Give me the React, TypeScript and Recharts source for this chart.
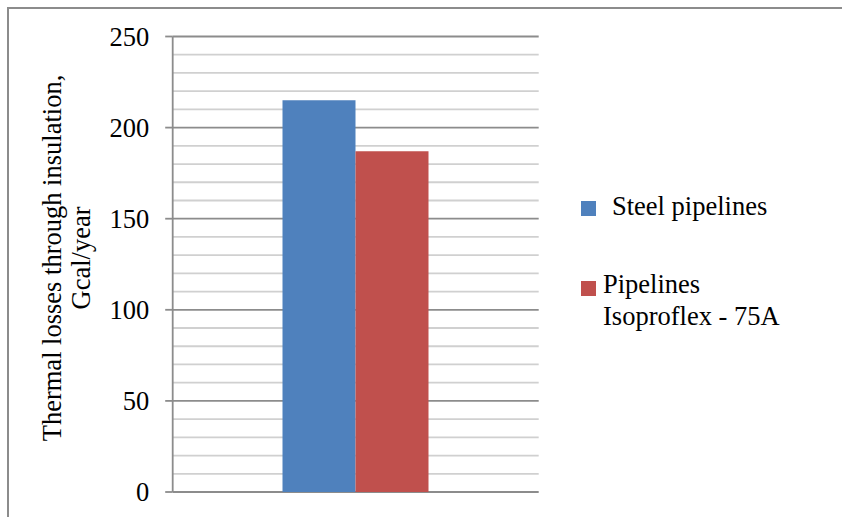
import React from "react";
import { BarChart, Bar, XAxis, YAxis, CartesianGrid } from "recharts";

const categories = [""];
const steelValues = [215];
const isoproflexValues = [187];
const seriesNames = ["Steel pipelines", "Pipelines Isoproflex - 75A"];
const legendLines = [["Steel pipelines"], ["Pipelines", "Isoproflex - 75A"]];
const seriesColors = ["#4F81BD", "#C0504D"];
const gridTicks = [
  0, 10, 20, 30, 40, 50, 60, 70, 80, 90, 100, 110, 120, 130, 140, 150, 160, 170,
  180, 190, 200, 210, 220, 230, 240, 250,
];
const axisTitleLines = ["Thermal losses through insulation,", "Gcal/year"];

const data = categories.map((c, i) => ({
  name: c,
  steel: steelValues[i],
  iso: isoproflexValues[i],
}));

const FONT = "'Liberation Serif', 'Times New Roman', serif";
const FS = 26.5;
const MAJOR = "#8c8c8c";
const MINOR = "#d0d0d0";
const textStyle = { fontFamily: FONT, fontSize: FS, fill: "#000" };

const AxisTitle = () => (
  <g>
    <text transform="rotate(-90)" x={-258} y={61} textAnchor="middle" style={textStyle}>
      {axisTitleLines[0]}
    </text>
    <text transform="rotate(-90)" x={-258} y={90} textAnchor="middle" style={textStyle}>
      {axisTitleLines[1]}
    </text>
  </g>
);

const LegendOverlay = () => (
  <svg
    width={842}
    height={517}
    style={{ position: "absolute", left: 0, top: 0, pointerEvents: "none" }}
  >
    <rect x={581} y={201} width={15} height={15} fill={seriesColors[0]} />
    <text x={612} y={215} style={textStyle}>
      {legendLines[0][0]}
    </text>
    <rect x={581} y={281} width={15} height={15} fill={seriesColors[1]} />
    <text x={603} y={293} style={textStyle}>
      {legendLines[1][0]}
    </text>
    <text x={603} y={325} style={textStyle}>
      {legendLines[1][1]}
    </text>
  </svg>
);

const GridLine = (props: any) => {
  const { x1, x2, y1, y2, index } = props;
  const major = index % 5 === 0;
  return <line x1={x1} x2={x2} y1={y1} y2={y2} stroke={major ? MAJOR : MINOR} strokeWidth={1.8} />;
};

const Tick = (props: any) => {
  const { x, y, payload } = props;
  if (payload.value % 50 !== 0) return <g />;
  return (
    <g>
      <line x1={x + 16} x2={x + 23.5} y1={y} y2={y} stroke={MAJOR} strokeWidth={1.8} />
      <text x={x} y={y} dy="0.355em" textAnchor="end" style={textStyle}>
        {payload.value}
      </text>
    </g>
  );
};

export default function App() {
  return (
    <div
      style={{
        position: "fixed",
        left: 0,
        top: 0,
        width: 842,
        height: 517,
        overflow: "hidden",
        background: "#fff",
      }}
    >
      <div
        style={{
          position: "absolute",
          left: 6.5,
          top: 6.5,
          width: 900,
          height: 600,
          borderTop: "2px solid #8c8c8c",
          borderLeft: "2px solid #8c8c8c",
        }}
      />
      <div style={{ position: "absolute", left: 0, top: 0 }}>
        <BarChart
          width={842}
          height={517}
          data={data}
          margin={{ top: 36.5, right: 303.3, bottom: 25, left: 0 }}
          barCategoryGap="30%"
          barGap={0}
        >
          <CartesianGrid vertical={false} horizontal={(p: any) => <GridLine {...p} />} />
          <XAxis dataKey="name" hide />
          <YAxis
            width={172.7}
            domain={[0, 250]}
            ticks={gridTicks}
            interval={0}
            axisLine={{ stroke: MAJOR, strokeWidth: 1.8 }}
            tickLine={false}
            tickSize={7.5}
            tickMargin={16}
            tick={(p: any) => <Tick {...p} />}
            label={{ content: () => <AxisTitle /> }}
          />
          <Bar dataKey="steel" name={seriesNames[0]} fill={seriesColors[0]} isAnimationActive={false} />
          <Bar dataKey="iso" name={seriesNames[1]} fill={seriesColors[1]} isAnimationActive={false} />
        </BarChart>
      </div>
      <LegendOverlay />
    </div>
  );
}
